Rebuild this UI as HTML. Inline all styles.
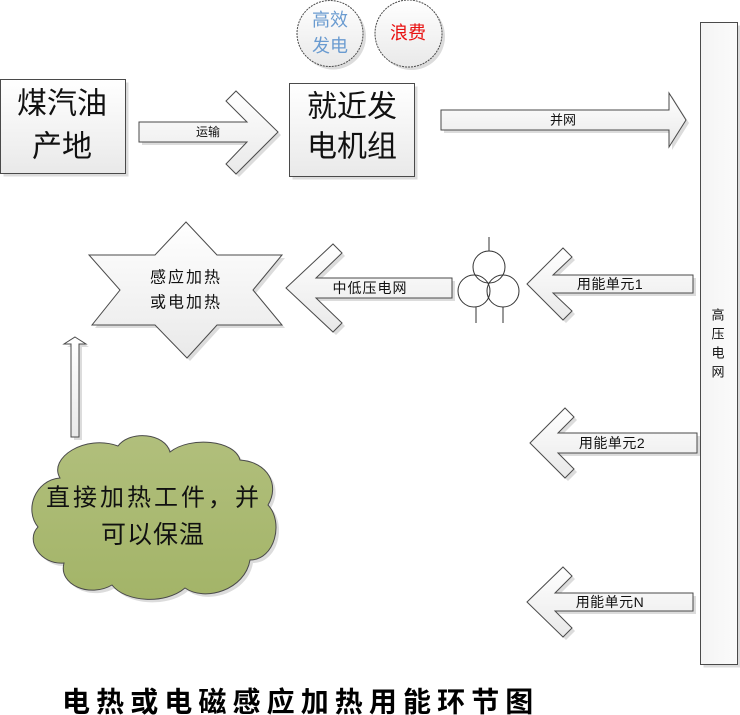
<!DOCTYPE html>
<html>
<head>
<meta charset="utf-8">
<style>
html,body{margin:0;padding:0;background:#fff;}
svg{display:block;}
text{font-family:"Liberation Sans","Noto Sans CJK SC",sans-serif;}
</style>
</head>
<body>
<svg width="740" height="715" viewBox="0 0 740 715" xmlns="http://www.w3.org/2000/svg">
<defs>
<linearGradient id="g" x1="0" y1="0" x2="0" y2="1">
<stop offset="0" stop-color="#ffffff"/>
<stop offset="1" stop-color="#e9e9e9"/>
</linearGradient>
<linearGradient id="gv" x1="0" y1="0" x2="1" y2="0">
<stop offset="0" stop-color="#f4f4f4"/>
<stop offset="1" stop-color="#fbfbfb"/>
</linearGradient>
<linearGradient id="cg" x1="0" y1="0" x2="0" y2="1">
<stop offset="0" stop-color="#b1bf7c"/>
<stop offset="1" stop-color="#a3b468"/>
</linearGradient>
</defs>

<!-- shadows -->
<g fill="#dcdcdc" transform="translate(3,3)">
<rect x="0.5" y="79.5" width="125" height="94"/>
<rect x="289.5" y="83.5" width="125" height="93"/>
<circle cx="330" cy="33.5" r="33"/>
<circle cx="408.5" cy="33.5" r="33.5"/>
<rect x="700.5" y="22.5" width="37" height="642"/>
<polygon points="139,122 247,122 226,101 236,91 278,132 236,174 226,164 247,142 139,142"/>
<polygon points="441,110 669,110 669,93 686,120 669,147 669,130 441,130"/>
<polygon points="186,222 217,255 282,255 253,290 282,325 217,325 187,358 155,325 92,325 120,290 89,255 155,255"/>
<polygon points="286,288 333,244 342,253 316,278 452,278 452,298 316,298 342,323 333,332"/>
<polygon points="527,284 563,248 572,257 553,275 693,275 693,293 553,293 572,311 563,320"/>
<polygon points="530,443 565,408 574,417 558,433 697,433 697,453 558,453 574,469 565,478"/>
<polygon points="527,602 563,567 572,576 555,593 693,593 693,611 555,611 572,628 563,637"/>
<polygon points="75,337 86,344 79,344 79,437 71,437 71,344 64,344"/>
<path d="M60,478 C48,458 85,434 118,446 C130,430 165,433 170,452 C190,436 235,440 240,460 C268,462 280,485 268,505 C284,522 275,560 250,560 C245,590 205,602 185,588 C165,605 125,602 112,585 C90,598 58,585 64,563 C40,565 25,540 38,527 C24,510 35,480 60,478 Z"/>
</g>

<g stroke="#4a4a4a" stroke-width="1" fill="url(#g)">
<rect x="0.5" y="79.5" width="125" height="94"/>
<rect x="289.5" y="83.5" width="125" height="93"/>
<circle cx="330" cy="33.5" r="33" stroke-dasharray="2,1"/>
<circle cx="408.5" cy="33.5" r="33.5" stroke-dasharray="2,1"/>
<rect x="700.5" y="22.5" width="37" height="642" fill="url(#gv)"/>
<polygon points="139,122 247,122 226,101 236,91 278,132 236,174 226,164 247,142 139,142"/>
<polygon points="441,110 669,110 669,93 686,120 669,147 669,130 441,130"/>
<polygon points="186,222 217,255 282,255 253,290 282,325 217,325 187,358 155,325 92,325 120,290 89,255 155,255"/>
<polygon points="286,288 333,244 342,253 316,278 452,278 452,298 316,298 342,323 333,332"/>
<polygon points="527,284 563,248 572,257 553,275 693,275 693,293 553,293 572,311 563,320"/>
<polygon points="530,443 565,408 574,417 558,433 697,433 697,453 558,453 574,469 565,478"/>
<polygon points="527,602 563,567 572,576 555,593 693,593 693,611 555,611 572,628 563,637"/>
<polygon points="75,337 86,344 79,344 79,437 71,437 71,344 64,344"/>
<path fill="url(#cg)" d="M60,478 C48,458 85,434 118,446 C130,430 165,433 170,452 C190,436 235,440 240,460 C268,462 280,485 268,505 C284,522 275,560 250,560 C245,590 205,602 185,588 C165,605 125,602 112,585 C90,598 58,585 64,563 C40,565 25,540 38,527 C24,510 35,480 60,478 Z"/>
</g>

<!-- transformer -->
<g stroke="#333" stroke-width="1" fill="none">
<line x1="489" y1="237" x2="489" y2="251"/>
<circle cx="489" cy="267" r="16"/>
<circle cx="474" cy="291" r="16"/>
<circle cx="503" cy="291" r="16"/>
<line x1="476" y1="307" x2="476" y2="323"/>
<line x1="503" y1="307" x2="503" y2="323"/>
</g>

<g fill="#111" text-anchor="middle" dominant-baseline="central">
<text x="62" y="104" font-size="30">煤汽油</text>
<text x="62" y="147" font-size="30">产地</text>
<text x="352" y="107" font-size="30">就近发</text>
<text x="352" y="147" font-size="30">电机组</text>
<text x="330" y="20" font-size="18" fill="#6a9bd0">高效</text>
<text x="330" y="46" font-size="18" fill="#6a9bd0">发电</text>
<text x="408" y="33" font-size="18" fill="#e81010">浪费</text>
<text x="208" y="132" font-size="12">运输</text>
<text x="563" y="120" font-size="13">并网</text>
<text x="186" y="278" font-size="16" letter-spacing="2">感应加热</text>
<text x="186" y="303" font-size="16" letter-spacing="2">或电加热</text>
<text x="370" y="288" font-size="14" letter-spacing="1">中低压电网</text>
<text x="610" y="284" font-size="14" letter-spacing="0.5">用能单元1</text>
<text x="612" y="443" font-size="14" letter-spacing="0.5">用能单元2</text>
<text x="610" y="602" font-size="14" letter-spacing="0.5">用能单元N</text>
<text x="718" y="315" font-size="13">高</text>
<text x="718" y="334" font-size="13">压</text>
<text x="718" y="353" font-size="13">电</text>
<text x="718" y="372" font-size="13">网</text>
<text x="154" y="498" font-size="24" letter-spacing="3">直接加热工件，并</text>
<text x="153" y="535" font-size="25" letter-spacing="1">可以保温</text>
</g>

<text x="62" y="702" font-size="28" font-weight="bold" letter-spacing="6.1" dominant-baseline="central" fill="#000">电热或电磁感应加热用能环节图</text>
</svg>
</body>
</html>
